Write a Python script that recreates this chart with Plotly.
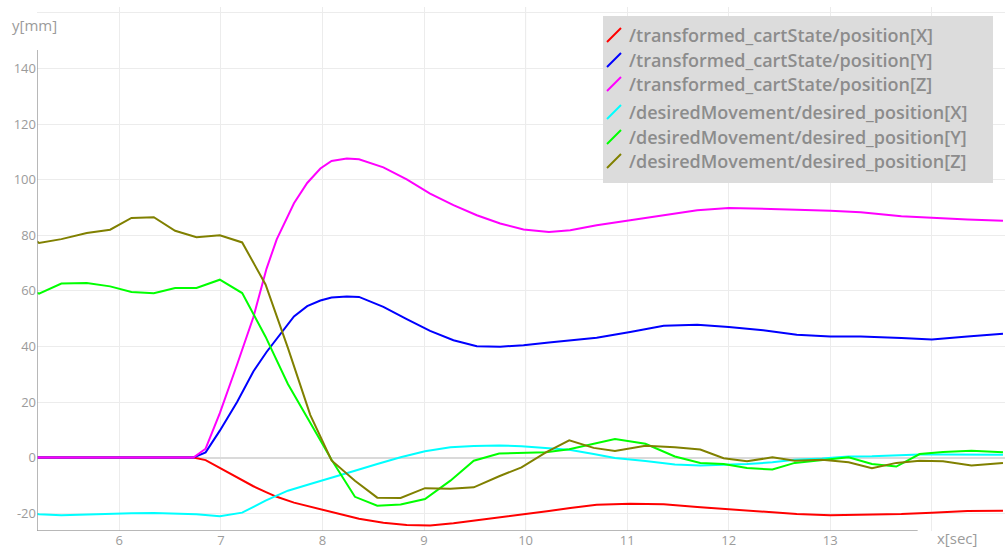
import plotly.graph_objects as go

# ---- data -------------------------------------------------------------
# measured cartesian state (smooth signals)
t_state = [5.19, 6.73, 6.85, 6.99, 7.16, 7.32, 7.45, 7.55, 7.72, 7.85, 7.98, 8.09,
           8.24, 8.36, 8.60, 8.83, 9.06, 9.29, 9.52, 9.75, 9.98, 10.23, 10.44, 10.70,
           11.03, 11.36, 11.69, 12.00, 12.34, 12.67, 13.00, 13.30, 13.70, 14.00, 14.35, 14.70]
pos_x = [0, 0, -0.9, -3.7, -6.8, -10.3, -12.5, -14.1, -16.2, -17.4, -18.5, -19.5,
         -20.9, -22.0, -23.4, -24.2, -24.4, -23.6, -22.5, -21.5, -20.4, -19.2, -18.1, -17.0,
         -16.6, -16.8, -17.8, -18.6, -19.7, -20.3, -20.7, -20.6, -20.3, -19.8, -19.2, -19.1]
pos_y = [0, 0, 1.9, 9.7, 20.0, 31.0, 38.0, 42.8, 50.8, 54.5, 56.5, 57.6,
         58.0, 57.8, 54.2, 49.8, 45.6, 42.2, 40.1, 39.9, 40.4, 41.4, 42.2, 43.1,
         45.2, 47.4, 47.8, 47.0, 45.8, 44.2, 43.6, 43.6, 43.0, 42.5, 43.6, 44.6]
pos_z = [0, 0, 3.2, 16.0, 33.5, 50.5, 68.0, 78.5, 91.5, 98.8, 104.0, 106.7,
         107.6, 107.3, 104.4, 100.1, 95.0, 90.8, 87.2, 84.2, 82.1, 81.2, 81.8, 83.6,
         85.4, 87.2, 89.0, 89.8, 89.6, 89.2, 88.8, 88.3, 86.8, 86.2, 85.7, 85.2]

# desired movement (piecewise linear setpoints)
t_desired = [5.19, 5.21, 5.43, 5.68, 5.91, 6.12, 6.34, 6.55, 6.76, 6.99, 7.21, 7.44,
             7.66, 7.88, 8.09, 8.32, 8.54, 8.77, 9.01, 9.26, 9.49, 9.74, 9.96, 10.20,
             10.43, 10.67, 10.88, 11.18, 11.47, 11.72, 11.95, 12.18, 12.43, 12.65, 12.92,
             13.18, 13.41, 13.65, 13.88, 14.11, 14.39, 14.70]
des_x = [-20.3, -20.4, -20.7, -20.4, -20.2, -20.0, -19.9, -20.1, -20.4, -21.1, -19.8, -15.5,
         -11.9, -9.5, -7.1, -4.7, -2.3, 0.1, 2.3, 3.7, 4.2, 4.4, 4.1, 3.5,
         2.8, 1.3, -0.1, -1.2, -2.5, -2.8, -2.6, -2.3, -1.7, -0.8, -0.3,
         0.4, 0.5, 0.8, 1.1, 1.1, 1.0, 1.0]
des_y = [59.3, 59.0, 62.6, 62.8, 61.6, 59.6, 59.1, 61.0, 61.0, 64.0, 59.2, 43.5,
         26.5, 12.3, -0.8, -14.1, -17.3, -16.9, -14.9, -8.3, -1.1, 1.5, 1.8, 1.9,
         3.0, 4.9, 6.7, 5.0, 0.4, -1.9, -2.3, -3.7, -4.3, -1.9, -0.8,
         0.1, -2.3, -3.2, 1.3, 2.0, 2.5, 1.9]
des_z = [77.8, 77.2, 78.6, 80.8, 82.0, 86.2, 86.5, 81.6, 79.3, 80.0, 77.4, 62.3,
         39.5, 15.4, -1.0, -8.3, -14.4, -14.5, -11.0, -11.2, -10.7, -6.7, -3.5, 1.9,
         6.2, 3.5, 2.4, 4.3, 3.7, 2.9, -0.2, -1.3, 0.1, -1.1, -0.8,
         -1.7, -3.8, -1.9, -1.1, -1.3, -2.8, -1.9]

x_ticks = [6, 7, 8, 9, 10, 11, 12, 13, 14]
x_tick_text = ["6", "7", "8", "9", "10", "11", "12", "13", ""]
y_ticks = [-20, 0, 20, 40, 60, 80, 100, 120, 140, 160]
y_tick_text = ["-20", "0", "20", "40", "60", "80", "100", "120", "140", ""]

series = [
    ("/transformed_cartState/position[X]", t_state, pos_x, "#ff0000"),
    ("/transformed_cartState/position[Y]", t_state, pos_y, "#0000ff"),
    ("/transformed_cartState/position[Z]", t_state, pos_z, "#ff00ff"),
    ("/desiredMovement/desired_position[X]", t_desired, des_x, "#00ffff"),
    ("/desiredMovement/desired_position[Y]", t_desired, des_y, "#00ff00"),
    ("/desiredMovement/desired_position[Z]", t_desired, des_z, "#808000"),
]

# ---- geometry ---------------------------------------------------------
W, H = 1005, 548
ML, MR, MT, MB = 37, 0, 7, 17
X_RANGE = [5.19, 14.72]
Y_RANGE = [-26.4, 162.1]
PW, PH = W - ML - MR, H - MT - MB


def px(xp):
    return (xp - ML) / PW


def py(yp):
    return (H - MB - yp) / PH


GRID = "#ececec"
TEXT = "#9b9b9b"
FONT = "Open Sans, Noto Sans, sans-serif"

fig = go.Figure()
for name, t, v, c in series:
    fig.add_trace(go.Scatter(x=t, y=v, mode="lines", name=name,
                             line=dict(color=c, width=2), showlegend=False))

shapes = [
    # white patch behind the y-axis title
    dict(type="rect", xref="paper", yref="paper", x0=0, x1=px(90), y0=py(22), y1=1,
         fillcolor="white", line=dict(width=0), layer="below"),
    # highlighted vertical line at t = 10
    dict(type="line", xref="x", yref="paper", x0=10, x1=10, y0=0, y1=1,
         line=dict(color="#c8c8c8", width=1), layer="below"),
    # y axis line
    dict(type="line", xref="x", yref="y", x0=X_RANGE[0], x1=X_RANGE[0], y0=Y_RANGE[0], y1=146.6,
         line=dict(color="#a0a0a0", width=1.5)),
    # x axis line
    dict(type="line", xref="x", yref="y", x0=X_RANGE[0], x1=13.86, y0=Y_RANGE[0], y1=Y_RANGE[0],
         line=dict(color="#a0a0a0", width=1.5)),
    # legend box
    dict(type="rect", xref="paper", yref="paper", x0=px(603), x1=px(993), y0=py(183), y1=py(16),
         fillcolor="#dcdcdc", line=dict(width=0), layer="above"),
]

annotations = [
    dict(text="y[mm]", xref="paper", yref="paper", x=px(10), y=py(25), xanchor="left",
         yanchor="middle", showarrow=False, font=dict(family=FONT, size=15, color=TEXT)),
    dict(text="x[sec]", xref="paper", yref="paper", x=px(935), y=py(538), xanchor="left",
         yanchor="middle", showarrow=False, font=dict(family=FONT, size=15, color=TEXT)),
]

legend_rows = [35, 60, 84, 112, 137, 161]
for (name, _, _, c), yr in zip(series, legend_rows):
    shapes.append(dict(type="line", xref="paper", yref="paper",
                       x0=px(607), x1=px(621), y0=py(yr + 7), y1=py(yr - 7),
                       line=dict(color=c, width=2), layer="above"))
    annotations.append(dict(text=name, xref="paper", yref="paper", x=px(627), y=py(yr),
                            xanchor="left", yanchor="middle", showarrow=False,
                            font=dict(family=FONT, size=18, color="#8c8c8c", weight=600)))

fig.update_layout(
    width=W, height=H,
    margin=dict(l=ML, r=MR, t=MT, b=MB, pad=0),
    paper_bgcolor="white", plot_bgcolor="white",
    shapes=shapes, annotations=annotations,
    xaxis=dict(range=X_RANGE, tickvals=x_ticks, ticktext=x_tick_text, showgrid=True,
               gridcolor=GRID, gridwidth=1, zeroline=False, showline=False, ticks="",
               tickfont=dict(family=FONT, size=13, color=TEXT)),
    yaxis=dict(range=Y_RANGE, tickvals=y_ticks, ticktext=y_tick_text, showgrid=True,
               gridcolor=GRID, gridwidth=1, zeroline=True, zerolinecolor="#dadada",
               zerolinewidth=2, showline=False, ticks="",
               tickfont=dict(family=FONT, size=13, color=TEXT)),
)

fig.write_html("out.html")
